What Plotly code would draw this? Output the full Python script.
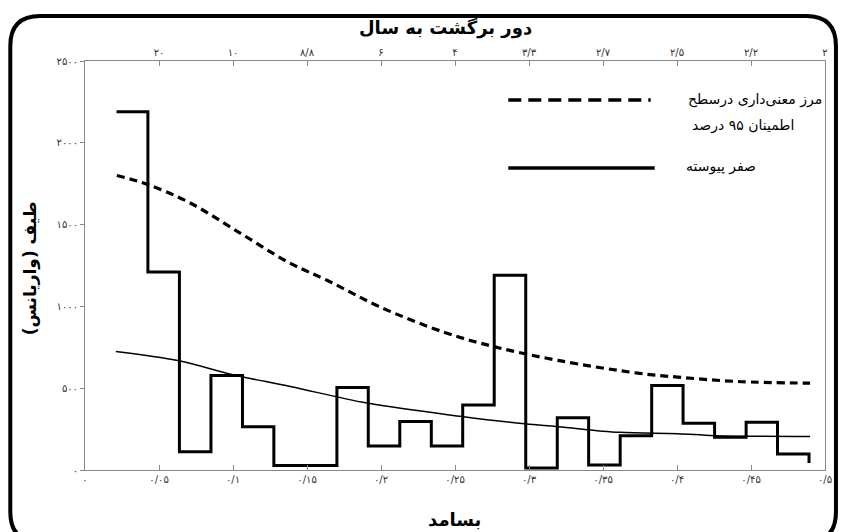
import plotly.graph_objects as go

# ---------------- data ----------------
# spectrum step (bin edges in frequency, variance per bin)
bin_edges = [0.0213, 0.0425, 0.0638, 0.0851, 0.1064, 0.1276, 0.1489, 0.1702,
             0.1914, 0.2127, 0.2340, 0.2552, 0.2765, 0.2978, 0.3191, 0.3403,
             0.3616, 0.3829, 0.4041, 0.4254, 0.4467, 0.4679, 0.4892]
spectrum = [2190, 1211, 112, 578, 265, 28, 28, 504, 147, 296, 147, 398,
            1190, 12, 320, 31, 210, 516, 286, 200, 292, 98]
spectrum_end = 43

# 95% significance bound
sig_freq = [0.0215, 0.0424, 0.0707, 0.1043, 0.1380, 0.1649, 0.1985, 0.2436,
            0.2759, 0.3196, 0.3735, 0.4004, 0.4408, 0.4899]
sig_vals = [1800, 1745, 1634, 1451, 1267, 1154, 1000, 839, 755, 670, 592,
            568, 541, 531]

# continuous red-noise null
null_freq = [0.0208, 0.0635, 0.1000, 0.1380, 0.1907, 0.2546, 0.2972, 0.3196,
             0.3611, 0.4004, 0.4254, 0.4899]
null_vals = [725, 668, 582, 512, 409, 327, 282, 265, 230, 222, 210, 205]

# axis ticks
x_tickvals = [0, 0.05, 0.1, 0.15, 0.2, 0.25, 0.3, 0.35, 0.4, 0.45, 0.5]
x_ticktext = ["۰", "۰/۰۵", "۰/۱", "۰/۱۵", "۰/۲", "۰/۲۵", "۰/۳", "۰/۳۵", "۰/۴", "۰/۴۵", "۰/۵"]
top_tickvals = [0.05, 0.1, 0.15, 0.2, 0.25, 0.3, 0.35, 0.4, 0.45, 0.5]
top_ticktext = ["۲۰", "۱۰", "۸/۸", "۶", "۴", "۳/۳", "۲/۷", "۲/۵", "۲/۲", "۲"]
y_tickvals = [0, 500, 1000, 1500, 2000, 2500]
y_ticktext = ["۰", "۵۰۰", "۱۰۰۰", "۱۵۰۰", "۲۰۰۰", "۲۵۰۰"]

FONT = "DejaVu Sans"
W, H = 844, 532
L, R, T, B = 85, 16, 61, 62
PW, PH = W - L - R, H - T - B


def px(x):
    return (x - L) / PW


def py(y):
    return (H - B - y) / PH


fig = go.Figure()

fig.add_trace(go.Scatter(
    x=bin_edges + [bin_edges[-1]],
    y=spectrum + [spectrum[-1], spectrum_end],
    mode="lines", line=dict(color="black", width=3, shape="hv"),
    showlegend=False, hoverinfo="skip"))

fig.add_trace(go.Scatter(
    x=sig_freq, y=sig_vals, mode="lines",
    line=dict(color="black", width=3.2, dash="8px,5px", shape="spline"),
    showlegend=False, hoverinfo="skip"))

fig.add_trace(go.Scatter(
    x=null_freq, y=null_vals, mode="lines",
    line=dict(color="black", width=1.5, shape="spline"),
    showlegend=False, hoverinfo="skip"))

# invisible trace to activate top axis
fig.add_trace(go.Scatter(x=[0, 0.5], y=[0, 0], xaxis="x2", mode="lines",
                         line=dict(width=0), showlegend=False, hoverinfo="skip"))

axis_col = "#888888"
tick_font = dict(family=FONT, size=10, color="#333333")

fig.update_layout(
    width=W, height=H,
    margin=dict(l=L, r=R, t=T, b=B),
    paper_bgcolor="white", plot_bgcolor="white",
    font=dict(family=FONT),
    xaxis=dict(range=[0, 0.5], tickvals=x_tickvals, ticktext=x_ticktext,
               showgrid=False, zeroline=False, showline=True, linecolor=axis_col,
               linewidth=1, ticks="inside", ticklen=5, tickcolor=axis_col,
               tickfont=tick_font),
    xaxis2=dict(range=[0, 0.5], overlaying="x", side="top",
                tickvals=top_tickvals, ticktext=top_ticktext,
                showgrid=False, zeroline=False, showline=True, linecolor=axis_col,
                linewidth=1, ticks="inside", ticklen=5, tickcolor=axis_col,
                tickfont=tick_font),
    yaxis=dict(range=[0, 2500], tickvals=y_tickvals, ticktext=y_ticktext,
               showgrid=False, zeroline=False, showline=True, mirror=True,
               linecolor=axis_col, linewidth=1, ticks="outside", ticklen=4,
               tickcolor=axis_col, tickfont=tick_font),
)


def note(text, x, y, size, xanchor="center", angle=0):
    return dict(text=text, x=px(x), y=py(y), xref="paper", yref="paper",
                xanchor=xanchor, yanchor="middle", textangle=angle,
                showarrow=False, font=dict(family=FONT, size=size, color="black"))


ann = [
    note("<b>دور برگشت به سال</b>", 447, 28, 18),
    note("<b>بسامد</b>", 456, 519, 18),
    note("<b>طیف (واریانس)</b>", 30, 268, 17, angle=-90),
    note("مرز معنی‌داری درسطح", 827, 99, 14, xanchor="right"),
    note("اطمینان ۹۵ درصد", 799, 125, 14, xanchor="right"),
    note("صفر پیوسته", 761, 166, 14, xanchor="right"),
]
fig.update_layout(annotations=ann)

# legend samples and outer rounded frame
x0, x1, y0, y1, r = 10, 839, 16, 542, 30
path = (f"M {px(x0+r)},{py(y0)} L {px(x1-r)},{py(y0)} "
        f"Q {px(x1)},{py(y0)} {px(x1)},{py(y0+r)} "
        f"L {px(x1)},{py(y1-r)} Q {px(x1)},{py(y1)} {px(x1-r)},{py(y1)} "
        f"L {px(x0+r)},{py(y1)} Q {px(x0)},{py(y1)} {px(x0)},{py(y1-r)} "
        f"L {px(x0)},{py(y0+r)} Q {px(x0)},{py(y0)} {px(x0+r)},{py(y0)} Z")
shapes = [
    dict(type="line", xref="paper", yref="paper", x0=px(510), x1=px(653),
         y0=py(100), y1=py(100), line=dict(color="black", width=3.5, dash="13px,7px")),
    dict(type="line", xref="paper", yref="paper", x0=px(510), x1=px(657),
         y0=py(168), y1=py(168), line=dict(color="black", width=3.5)),
    dict(type="path", xref="paper", yref="paper", path=path,
         line=dict(color="black", width=4)),
]
fig.update_layout(shapes=shapes)

fig.write_html("out.html", config={"displayModeBar": False},
               post_script="document.body.style.margin='0';document.body.style.overflow='hidden';")
